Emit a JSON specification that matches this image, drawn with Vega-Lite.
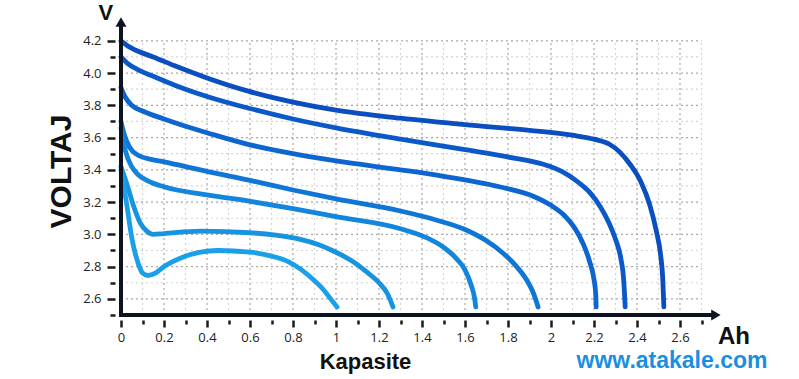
{
  "$schema": "https://vega.github.io/schema/vega-lite/v6.json",
  "width": 602,
  "height": 300,
  "autosize": "none",
  "padding": {"left": 121, "top": 15, "right": 76, "bottom": 64},
  "background": "white",
  "config": {"view": {"stroke": null}, "axis": {"labelOverlap": false, "labelBound": false, "labelFlush": false}},
  "datasets": {
    "one": [{"k": 1}],
    "gxMinor": [{"x":0.1},{"x":0.3},{"x":0.5},{"x":0.7},{"x":0.9},{"x":1.1},{"x":1.3},{"x":1.5},{"x":1.7},{"x":1.9},{"x":2.1},{"x":2.3},{"x":2.5},{"x":2.7}],
    "gxMajor": [{"x":0.2},{"x":0.4},{"x":0.6},{"x":0.8},{"x":1.0},{"x":1.2},{"x":1.4},{"x":1.6},{"x":1.8},{"x":2.0},{"x":2.2},{"x":2.4},{"x":2.6}],
    "gyMinor": [{"v":2.7},{"v":2.9},{"v":3.1},{"v":3.3},{"v":3.5},{"v":3.7},{"v":3.9},{"v":4.1}],
    "gyMajor": [{"v":2.6},{"v":2.8},{"v":3.0},{"v":3.2},{"v":3.4},{"v":3.6},{"v":3.8},{"v":4.0},{"v":4.2}],
    "curves": [
      {"c":"c1","x":0,"v":4.20},{"c":"c1","x":0.03,"v":4.17},{"c":"c1","x":0.08,"v":4.135},{"c":"c1","x":0.15,"v":4.10},{"c":"c1","x":0.25,"v":4.045},{"c":"c1","x":0.4,"v":3.97},{"c":"c1","x":0.6,"v":3.885},{"c":"c1","x":0.8,"v":3.82},{"c":"c1","x":1.0,"v":3.77},{"c":"c1","x":1.3,"v":3.72},{"c":"c1","x":1.6,"v":3.68},{"c":"c1","x":1.9,"v":3.645},{"c":"c1","x":2.1,"v":3.615},{"c":"c1","x":2.2,"v":3.59},{"c":"c1","x":2.27,"v":3.56},{"c":"c1","x":2.32,"v":3.51},{"c":"c1","x":2.37,"v":3.43},{"c":"c1","x":2.42,"v":3.32},{"c":"c1","x":2.46,"v":3.18},{"c":"c1","x":2.49,"v":3.02},{"c":"c1","x":2.51,"v":2.87},{"c":"c1","x":2.52,"v":2.72},{"c":"c1","x":2.525,"v":2.55},
      {"c":"c2","x":0,"v":4.10},{"c":"c2","x":0.03,"v":4.06},{"c":"c2","x":0.08,"v":4.02},{"c":"c2","x":0.15,"v":3.98},{"c":"c2","x":0.25,"v":3.925},{"c":"c2","x":0.4,"v":3.855},{"c":"c2","x":0.6,"v":3.78},{"c":"c2","x":0.8,"v":3.715},{"c":"c2","x":1.0,"v":3.66},{"c":"c2","x":1.3,"v":3.59},{"c":"c2","x":1.6,"v":3.525},{"c":"c2","x":1.8,"v":3.48},{"c":"c2","x":1.95,"v":3.44},{"c":"c2","x":2.05,"v":3.39},{"c":"c2","x":2.12,"v":3.33},{"c":"c2","x":2.18,"v":3.26},{"c":"c2","x":2.23,"v":3.17},{"c":"c2","x":2.27,"v":3.07},{"c":"c2","x":2.30,"v":2.97},{"c":"c2","x":2.325,"v":2.85},{"c":"c2","x":2.338,"v":2.72},{"c":"c2","x":2.345,"v":2.55},
      {"c":"c3","x":0,"v":3.91},{"c":"c3","x":0.02,"v":3.85},{"c":"c3","x":0.05,"v":3.80},{"c":"c3","x":0.1,"v":3.765},{"c":"c3","x":0.2,"v":3.715},{"c":"c3","x":0.3,"v":3.67},{"c":"c3","x":0.4,"v":3.63},{"c":"c3","x":0.6,"v":3.555},{"c":"c3","x":0.8,"v":3.50},{"c":"c3","x":1.0,"v":3.455},{"c":"c3","x":1.3,"v":3.40},{"c":"c3","x":1.5,"v":3.36},{"c":"c3","x":1.76,"v":3.295},{"c":"c3","x":1.92,"v":3.235},{"c":"c3","x":2.0,"v":3.18},{"c":"c3","x":2.06,"v":3.12},{"c":"c3","x":2.11,"v":3.04},{"c":"c3","x":2.15,"v":2.94},{"c":"c3","x":2.18,"v":2.83},{"c":"c3","x":2.2,"v":2.72},{"c":"c3","x":2.208,"v":2.63},{"c":"c3","x":2.21,"v":2.55},
      {"c":"c4","x":0,"v":3.70},{"c":"c4","x":0.015,"v":3.62},{"c":"c4","x":0.04,"v":3.54},{"c":"c4","x":0.08,"v":3.49},{"c":"c4","x":0.14,"v":3.465},{"c":"c4","x":0.2,"v":3.45},{"c":"c4","x":0.3,"v":3.42},{"c":"c4","x":0.4,"v":3.39},{"c":"c4","x":0.6,"v":3.335},{"c":"c4","x":0.8,"v":3.275},{"c":"c4","x":1.0,"v":3.22},{"c":"c4","x":1.3,"v":3.145},{"c":"c4","x":1.45,"v":3.095},{"c":"c4","x":1.6,"v":3.03},{"c":"c4","x":1.7,"v":2.96},{"c":"c4","x":1.78,"v":2.88},{"c":"c4","x":1.84,"v":2.80},{"c":"c4","x":1.89,"v":2.71},{"c":"c4","x":1.92,"v":2.63},{"c":"c4","x":1.94,"v":2.55},
      {"c":"c5","x":0,"v":3.66},{"c":"c5","x":0.02,"v":3.52},{"c":"c5","x":0.05,"v":3.42},{"c":"c5","x":0.08,"v":3.37},{"c":"c5","x":0.12,"v":3.335},{"c":"c5","x":0.2,"v":3.295},{"c":"c5","x":0.4,"v":3.245},{"c":"c5","x":0.6,"v":3.205},{"c":"c5","x":0.8,"v":3.16},{"c":"c5","x":1.0,"v":3.11},{"c":"c5","x":1.3,"v":3.035},{"c":"c5","x":1.42,"v":2.98},{"c":"c5","x":1.5,"v":2.92},{"c":"c5","x":1.56,"v":2.85},{"c":"c5","x":1.6,"v":2.78},{"c":"c5","x":1.63,"v":2.68},{"c":"c5","x":1.645,"v":2.60},{"c":"c5","x":1.65,"v":2.55},
      {"c":"c6","x":0,"v":3.42},{"c":"c6","x":0.03,"v":3.30},{"c":"c6","x":0.06,"v":3.17},{"c":"c6","x":0.09,"v":3.07},{"c":"c6","x":0.12,"v":3.02},{"c":"c6","x":0.15,"v":3.00},{"c":"c6","x":0.2,"v":3.005},{"c":"c6","x":0.37,"v":3.02},{"c":"c6","x":0.6,"v":3.01},{"c":"c6","x":0.72,"v":2.995},{"c":"c6","x":0.83,"v":2.97},{"c":"c6","x":0.92,"v":2.935},{"c":"c6","x":0.99,"v":2.895},{"c":"c6","x":1.08,"v":2.83},{"c":"c6","x":1.14,"v":2.77},{"c":"c6","x":1.2,"v":2.70},{"c":"c6","x":1.24,"v":2.63},{"c":"c6","x":1.265,"v":2.55},
      {"c":"c7","x":0,"v":3.40},{"c":"c7","x":0.025,"v":3.20},{"c":"c7","x":0.05,"v":2.98},{"c":"c7","x":0.08,"v":2.82},{"c":"c7","x":0.1,"v":2.76},{"c":"c7","x":0.125,"v":2.745},{"c":"c7","x":0.16,"v":2.76},{"c":"c7","x":0.2,"v":2.80},{"c":"c7","x":0.29,"v":2.86},{"c":"c7","x":0.37,"v":2.89},{"c":"c7","x":0.45,"v":2.90},{"c":"c7","x":0.6,"v":2.89},{"c":"c7","x":0.7,"v":2.865},{"c":"c7","x":0.78,"v":2.83},{"c":"c7","x":0.84,"v":2.78},{"c":"c7","x":0.89,"v":2.725},{"c":"c7","x":0.94,"v":2.66},{"c":"c7","x":0.975,"v":2.60},{"c":"c7","x":1.005,"v":2.55}
    ]
  },
  "layer": [
    {
      "data": {"name": "curves"},
      "mark": {"type": "line", "opacity": 0},
      "encoding": {
        "x": {
          "field": "x", "type": "quantitative",
          "scale": {"domain": [0, 2.8], "nice": false, "zero": false},
          "axis": {
            "values": [0,0.1,0.2,0.3,0.4,0.5,0.6,0.7,0.8,0.9,1,1.1,1.2,1.3,1.4,1.5,1.6,1.7,1.8,1.9,2,2.1,2.2,2.3,2.4,2.5,2.6,2.7],
            "tickCount": 100,
            "domain": false, "grid": false, "offset": 5,
            "tickColor": "#1a1a1a", "tickWidth": 2.5,
            "tickSize": {"condition": {"test": "round(datum.value*10)%2==1", "value": 4}, "value": 7},
            "labelExpr": "round(datum.value*10)%2==0 ? format(datum.value,'~g') : ''",
            "labelFont": "Open Sans", "labelFontSize": 13, "labelColor": "#222", "labelPadding": 4,
            "labelOverlap": false,
            "title": "Kapasite", "titleFont": "Liberation Sans", "titleFontSize": 22, "titleFontWeight": "bold", "titleColor": "#111",
            "titleX": 244, "titleY": 48, "titleBaseline": "alphabetic", "titleAlign": "center"
          }
        },
        "y": {
          "field": "v", "type": "quantitative",
          "scale": {"domain": [2.5, 4.36], "nice": false, "zero": false},
          "axis": {
            "values": [2.5,2.6,2.7,2.8,2.9,3.0,3.1,3.2,3.3,3.4,3.5,3.6,3.7,3.8,3.9,4.0,4.1,4.2],
            "tickCount": 100,
            "domain": false, "grid": false, "offset": 6,
            "tickColor": "#1a1a1a", "tickWidth": 2.5,
            "tickSize": {"condition": {"test": "round(datum.value*10)%2==1", "value": 5}, "value": 8},
            "labelExpr": "round(datum.value*10)%2==0 ? format(datum.value,'.1f') : ''",
            "labelFont": "Open Sans", "labelFontSize": 13, "labelColor": "#222", "labelPadding": 6,
            "labelOverlap": false,
            "title": "VOLTAJ", "titleFont": "Liberation Sans", "titleFontSize": 30, "titleFontWeight": "bold", "titleColor": "#111",
            "titleX": -54, "titleY": 156, "titleBaseline": "middle", "titleAlign": "center", "titleAngle": 270
          }
        },
        "detail": {"field": "c"}
      }
    },
    {
      "data": {"name": "gxMinor"},
      "mark": {"type": "rule", "color": "#d4d4d4", "strokeWidth": 1.2, "strokeDash": [2, 3]},
      "encoding": {
        "x": {"field": "x", "type": "quantitative", "title": "Kapasite"},
        "y": {"datum": 2.5, "type": "quantitative", "title": "VOLTAJ"},
        "y2": {"datum": 4.2}
      }
    },
    {
      "data": {"name": "gxMajor"},
      "mark": {"type": "rule", "color": "#a8a8a8", "strokeWidth": 1.2, "strokeDash": [2, 3]},
      "encoding": {
        "x": {"field": "x", "type": "quantitative", "title": "Kapasite"},
        "y": {"datum": 2.5, "type": "quantitative", "title": "VOLTAJ"},
        "y2": {"datum": 4.2}
      }
    },
    {
      "data": {"name": "gyMinor"},
      "mark": {"type": "rule", "color": "#d4d4d4", "strokeWidth": 1.2, "strokeDash": [2, 3]},
      "encoding": {
        "y": {"field": "v", "type": "quantitative", "title": "VOLTAJ"},
        "x": {"datum": 0, "type": "quantitative", "title": "Kapasite"},
        "x2": {"datum": 2.7}
      }
    },
    {
      "data": {"name": "gyMajor"},
      "mark": {"type": "rule", "color": "#a8a8a8", "strokeWidth": 1.2, "strokeDash": [2, 3]},
      "encoding": {
        "y": {"field": "v", "type": "quantitative", "title": "VOLTAJ"},
        "x": {"datum": 0, "type": "quantitative", "title": "Kapasite"},
        "x2": {"datum": 2.7}
      }
    },
    {
      "data": {"name": "curves"},
      "mark": {"type": "line", "interpolate": "monotone", "strokeWidth": 4.8, "strokeCap": "round", "strokeJoin": "round"},
      "encoding": {
        "x": {"field": "x", "type": "quantitative", "title": "Kapasite"},
        "y": {"field": "v", "type": "quantitative", "title": "VOLTAJ"},
        "detail": {"field": "c"},
        "color": {
          "field": "c", "type": "nominal", "legend": null,
          "scale": {"domain": ["c1","c2","c3","c4","c5","c6","c7"], "range": ["#0a4ebf","#0b58c8","#0d66d0","#0f76d7","#1286dd","#1694e2","#1aa0e8"]}
        }
      }
    },
    {
      "data": {"name": "one"},
      "mark": {"type": "rule", "color": "#0d1421", "strokeWidth": 4, "strokeCap": "square"},
      "encoding": {
        "x": {"datum": 0, "type": "quantitative", "title": "Kapasite"},
        "x2": {"datum": 2.755},
        "y": {"datum": 2.5, "type": "quantitative", "title": "VOLTAJ"}
      }
    },
    {
      "data": {"name": "one"},
      "mark": {"type": "rule", "color": "#0d1421", "strokeWidth": 4, "strokeCap": "square"},
      "encoding": {
        "x": {"datum": 0, "type": "quantitative", "title": "Kapasite"},
        "y": {"datum": 2.5, "type": "quantitative", "title": "VOLTAJ"},
        "y2": {"datum": 4.31}
      }
    },
    {
      "data": {"name": "one"},
      "mark": {"type": "point", "shape": "triangle-up", "filled": true, "color": "#0d1421", "size": 120, "opacity": 1},
      "encoding": {
        "x": {"datum": 0, "type": "quantitative", "title": "Kapasite"},
        "y": {"datum": 4.317, "type": "quantitative", "title": "VOLTAJ"}
      }
    },
    {
      "data": {"name": "one"},
      "mark": {"type": "point", "shape": "triangle-right", "filled": true, "color": "#0d1421", "size": 120, "opacity": 1},
      "encoding": {
        "x": {"datum": 2.767, "type": "quantitative", "title": "Kapasite"},
        "y": {"datum": 2.5, "type": "quantitative", "title": "VOLTAJ"}
      }
    },
    {
      "data": {"name": "one"},
      "mark": {"type": "text", "text": "V", "font": "Liberation Sans", "fontSize": 22, "fontWeight": "bold", "color": "#111", "align": "center", "baseline": "top"},
      "encoding": {
        "x": {"datum": -0.07, "type": "quantitative", "title": "Kapasite"},
        "y": {"datum": 4.437, "type": "quantitative", "title": "VOLTAJ"}
      }
    },
    {
      "data": {"name": "one"},
      "mark": {"type": "text", "text": "Ah", "font": "Liberation Sans", "fontSize": 24, "fontWeight": "bold", "color": "#111", "align": "center", "baseline": "alphabetic"},
      "encoding": {
        "x": {"datum": 2.851, "type": "quantitative", "title": "Kapasite"},
        "y": {"datum": 2.32, "type": "quantitative", "title": "VOLTAJ"}
      }
    },
    {
      "data": {"name": "one"},
      "mark": {"type": "text", "text": "www.atakale.com", "font": "Liberation Sans", "fontSize": 23, "fontWeight": "bold", "color": "#1a8fe0", "align": "center", "baseline": "alphabetic"},
      "encoding": {
        "x": {"datum": 2.563, "type": "quantitative", "title": "Kapasite"},
        "y": {"datum": 2.172, "type": "quantitative", "title": "VOLTAJ"}
      }
    }
  ]
}
